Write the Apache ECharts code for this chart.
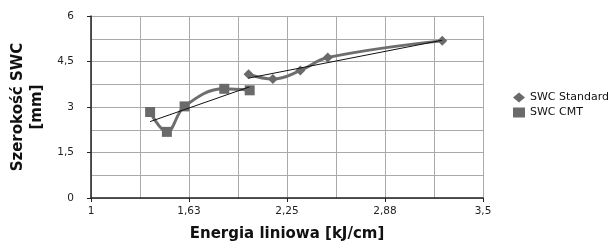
<!DOCTYPE html>
<html>
<head>
<meta charset="utf-8">
<script src="https://cdn.jsdelivr.net/npm/echarts@6/dist/echarts.min.js"></script>
<style>
  html, body { margin: 0; padding: 0; background: #fff; }
  #chart { width: 615px; height: 250px; }
</style>
</head>
<body>
<div id="chart"></div>
<script>
// dane
var stdX = [2.005, 2.16, 2.335, 2.51, 3.24];
var stdY = [4.08, 3.92, 4.2, 4.63, 5.18];
var cmtX = [1.377, 1.484, 1.597, 1.85, 2.012];
var cmtY = [2.835, 2.18, 3.02, 3.6, 3.55];
var xTickLabels = ['1', '1,63', '2,25', '2,88', '3,5'];
var yTickLabels = ['0', '1,5', '3', '4,5', '6'];
var seriesNames = ['SWC Standard', 'SWC CMT'];

function pairs(xs, ys) {
    var out = [];
    for (var i = 0; i < xs.length; i++) out.push([xs[i], ys[i]]);
    return out;
}

// linia trendu (liniowa, jak w Excelu)
function trend(xs, ys) {
    var n = xs.length, mx = 0, my = 0;
    for (var i = 0; i < n; i++) { mx += xs[i]; my += ys[i]; }
    mx /= n; my /= n;
    var sxy = 0, sxx = 0;
    for (var j = 0; j < n; j++) {
        sxy += (xs[j] - mx) * (ys[j] - my);
        sxx += (xs[j] - mx) * (xs[j] - mx);
    }
    var b = sxy / sxx, a = my - b * mx;
    var x0 = Math.min.apply(null, xs), x1 = Math.max.apply(null, xs);
    return [[x0, a + b * x0], [x1, a + b * x1]];
}

var font = 'DejaVu Sans';
var myChart = echarts.init(document.getElementById('chart'));
var option = {
    animation: false,
    textStyle: { fontFamily: font },
    grid: { left: 91, right: 132, top: 16, bottom: 52, containLabel: false, outerBoundsMode: 'none' },
    legend: {
        orient: 'vertical',
        left: 508,
        top: 87,
        itemWidth: 12,
        itemHeight: 10,
        itemGap: 4,
        textStyle: { fontFamily: font, fontSize: 11, color: '#111' },
        data: [
            { name: seriesNames[0], icon: 'diamond' },
            { name: seriesNames[1], icon: 'rect' }
        ]
    },
    xAxis: {
        type: 'value',
        min: 1,
        max: 3.5,
        interval: 0.625,
        name: 'Energia liniowa [kJ/cm]',
        nameLocation: 'middle',
        nameGap: 29,
        nameTextStyle: { fontFamily: font, fontSize: 15, fontWeight: 'bold', color: '#111' },
        axisLine: { lineStyle: { color: '#222', width: 1.5 } },
        axisTick: { show: true, length: 4, inside: false, lineStyle: { color: '#222' } },
        axisLabel: {
            fontFamily: font, fontSize: 10.5, color: '#222', margin: 8,
            formatter: function (v, i) { return xTickLabels[i]; }
        },
        splitLine: { show: true, lineStyle: { color: '#aaa' } },
        minorTick: { show: false, splitNumber: 2 },
        minorSplitLine: { show: true, lineStyle: { color: '#aaa' } }
    },
    yAxis: {
        type: 'value',
        min: 0,
        max: 6,
        interval: 1.5,
        name: 'Szerokość SWC\n[mm]',
        nameLocation: 'middle',
        nameGap: 43,
        nameTextStyle: { fontFamily: font, fontSize: 15, fontWeight: 'bold', color: '#111', lineHeight: 19 },
        axisLine: { show: true, lineStyle: { color: '#222', width: 1.5 } },
        axisTick: { show: true, length: 4, lineStyle: { color: '#222' } },
        axisLabel: {
            fontFamily: font, fontSize: 10.5, color: '#222', margin: 17,
            formatter: function (v, i) { return yTickLabels[i]; }
        },
        splitLine: { show: true, lineStyle: { color: '#aaa' } },
        minorTick: { show: false, splitNumber: 2 },
        minorSplitLine: { show: true, lineStyle: { color: '#aaa' } }
    },
    series: [
        {
            name: seriesNames[0],
            type: 'line',
            smooth: 0.4,
            symbol: 'diamond',
            symbolSize: 10,
            itemStyle: { color: '#6a6a6a' },
            lineStyle: { color: '#6e6e6e', width: 3 },
            data: pairs(stdX, stdY),
            z: 3
        },
        {
            name: seriesNames[1],
            type: 'line',
            smooth: 0.4,
            symbol: 'rect',
            symbolSize: 10,
            itemStyle: { color: '#6a6a6a' },
            lineStyle: { color: '#6e6e6e', width: 3 },
            data: pairs(cmtX, cmtY),
            z: 3
        },
        {
            name: 'trend1',
            type: 'line',
            symbol: 'none',
            lineStyle: { color: '#111', width: 1 },
            data: trend(stdX, stdY),
            z: 4
        },
        {
            name: 'trend2',
            type: 'line',
            symbol: 'none',
            lineStyle: { color: '#111', width: 1 },
            data: trend(cmtX, cmtY),
            z: 4
        }
    ]
};
myChart.setOption(option);
</script>
</body>
</html>
